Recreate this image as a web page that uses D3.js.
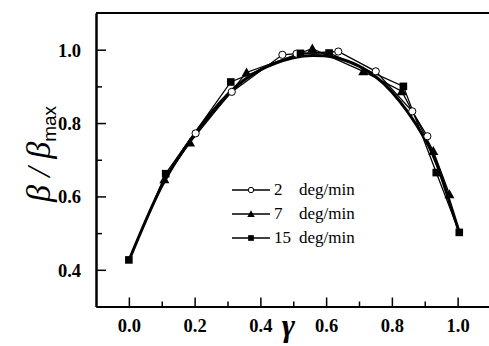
<!DOCTYPE html>
<html><head><meta charset="utf-8">
<script src="https://cdnjs.cloudflare.com/ajax/libs/d3/7.8.5/d3.min.js"></script>
<style>body{margin:0;background:#fff}svg{display:block}
.serif{font-family:"Liberation Serif","Times New Roman","DejaVu Serif",serif}
.sans{font-family:"Liberation Sans",Arial,sans-serif}
</style>
</head><body>
<script>
// ---- data ----
const xTicks = [0.0, 0.2, 0.4, 0.6, 0.8, 1.0];
const xMinorTicks = [0.1, 0.3, 0.5, 0.7, 0.9];
const yTicks = [0.4, 0.6, 0.8, 1.0];
const yMinorTicks = [0.5, 0.7, 0.9];
const seriesNames = ["2", "7", "15"];
const seriesUnit = "deg/min";
const s2x = [0.203, 0.313, 0.467, 0.510, 0.637, 0.751, 0.862, 0.908];
const s2y = [0.772, 0.885, 0.986, 0.989, 0.995, 0.941, 0.832, 0.764];
const s7x = [0.108, 0.186, 0.358, 0.558, 0.713, 0.830, 0.926, 0.975];
const s7y = [0.647, 0.747, 0.938, 1.003, 0.941, 0.887, 0.724, 0.606];
const s15x = [0.000, 0.112, 0.310, 0.522, 0.609, 0.835, 0.935, 1.005];
const s15y = [0.427, 0.662, 0.912, 0.990, 0.991, 0.900, 0.665, 0.502];
const fitX = [0.000, 0.100, 0.200, 0.300, 0.400, 0.500, 0.560, 0.620, 0.700, 0.800, 0.900, 0.950, 1.005];
const fitY = [0.425, 0.628, 0.770, 0.878, 0.945, 0.978, 0.984, 0.980, 0.955, 0.885, 0.758, 0.655, 0.502];

const W = 489, H = 346;
const svg = d3.select("body").append("svg").attr("width", W).attr("height", H);
const x = d3.scaleLinear().domain([-0.1, 1.1]).range([96, 490.5]);
const y = d3.scaleLinear().domain([0.3, 1.1]).range([306.5, 13]);

// fit curve (thick)
const line = d3.line().x(d => x(d[0])).y(d => y(d[1]));
const fit = d3.zip(fitX, fitY);
svg.append("path").datum(fit).attr("d", line.curve(d3.curveNatural))
  .attr("fill", "none").attr("stroke", "#000").attr("stroke-width", 3);

const series = [
  {name: seriesNames[0], pts: d3.zip(s2x, s2y), sym: "circle"},
  {name: seriesNames[1], pts: d3.zip(s7x, s7y), sym: "triangle"},
  {name: seriesNames[2], pts: d3.zip(s15x, s15y), sym: "square"}
];
const thin = d3.line().x(d => x(d[0])).y(d => y(d[1]));
series.forEach(s => {
  svg.append("path").datum(s.pts).attr("d", thin)
    .attr("fill", "none").attr("stroke", "#000").attr("stroke-width", 1.3);
});
function drawMarker(g, sym, cx, cy, k) {
  if (sym === "circle") {
    g.append("circle").attr("cx", cx).attr("cy", cy).attr("r", 3.6 * k)
      .attr("fill", "#fff").attr("stroke", "#000").attr("stroke-width", 1);
  } else if (sym === "triangle") {
    const a = 5 * k;
    g.append("path").attr("d", `M${cx},${cy - a}L${cx + a},${cy + a * 0.8}L${cx - a},${cy + a * 0.8}Z`).attr("fill", "#000");
  } else {
    const a = 3.8 * k;
    g.append("rect").attr("x", cx - a).attr("y", cy - a).attr("width", 2 * a).attr("height", 2 * a).attr("fill", "#000");
  }
}
const mg = svg.append("g");
series.forEach(s => s.pts.forEach(p => drawMarker(mg, s.sym, x(p[0]), y(p[1]), 1)));

// axes
const axL = svg.append("g").attr("transform", `translate(${x(-0.1)},0)`)
  .call(d3.axisLeft(y).tickValues(yTicks).tickSizeInner(-10).tickSizeOuter(0).tickPadding(15).tickFormat(d3.format(".1f")));
const axLm = svg.append("g").attr("transform", `translate(${x(-0.1)},0)`)
  .call(d3.axisLeft(y).tickValues(yMinorTicks).tickSizeInner(-6).tickSizeOuter(0).tickFormat(""));
const axB = svg.append("g").attr("transform", `translate(0,${y(0.3)})`)
  .call(d3.axisBottom(x).tickValues(xTicks).tickSizeInner(-9).tickSizeOuter(0).tickPadding(14).tickFormat(d3.format(".1f")));
const axBm = svg.append("g").attr("transform", `translate(0,${y(0.3)})`)
  .call(d3.axisBottom(x).tickValues(xMinorTicks).tickSizeInner(-5).tickSizeOuter(0).tickFormat(""));
[axL, axLm, axB, axBm].forEach(a => {
  a.attr("font-family", null).attr("font-size", null);
  a.selectAll(".domain").attr("stroke", "#000").attr("stroke-width", 2);
  a.selectAll(".tick line").attr("stroke", "#000").attr("stroke-width", 1.5);
  a.selectAll("text").attr("class", "serif").style("font-weight", "bold").style("font-size", "18.5px").attr("fill", "#000");
});
axL.selectAll("text").attr("dy", "0.35em");
axB.selectAll("text").attr("dy", "0.6em");
// top frame
svg.append("line").attr("x1", x(-0.1)).attr("x2", x(1.1)).attr("y1", y(1.1)).attr("y2", y(1.1))
  .attr("stroke", "#000").attr("stroke-width", 2);

// axis titles
svg.append("text").attr("class", "serif").attr("x", x(0.485)).attr("y", 336).attr("text-anchor", "middle")
  .style("font-style", "italic").style("font-weight", "bold").style("font-size", "32px").text("γ");
const yl = svg.append("text").attr("transform", "translate(50,154) rotate(-90)").attr("text-anchor", "middle");
yl.append("tspan").attr("class", "serif").style("font-style", "italic").style("font-size", "34px").text("β / β");
yl.append("tspan").attr("class", "sans").style("font-size", "19px").attr("dy", 6).text("max");

// legend
const lg = svg.append("g");
series.forEach((s, i) => {
  const ly = 190 + i * 24;
  lg.append("line").attr("x1", 232).attr("x2", 270).attr("y1", ly).attr("y2", ly).attr("stroke", "#000").attr("stroke-width", 1.6);
  drawMarker(lg, s.sym, 251, ly, 0.75);
  lg.append("text").attr("class", "serif").attr("x", 274).attr("y", ly + 5).style("font-size", "17px").text(s.name);
  lg.append("text").attr("class", "serif").attr("x", 299).attr("y", ly + 5).style("font-size", "17px").text(seriesUnit);
});
</script>
</body></html>
